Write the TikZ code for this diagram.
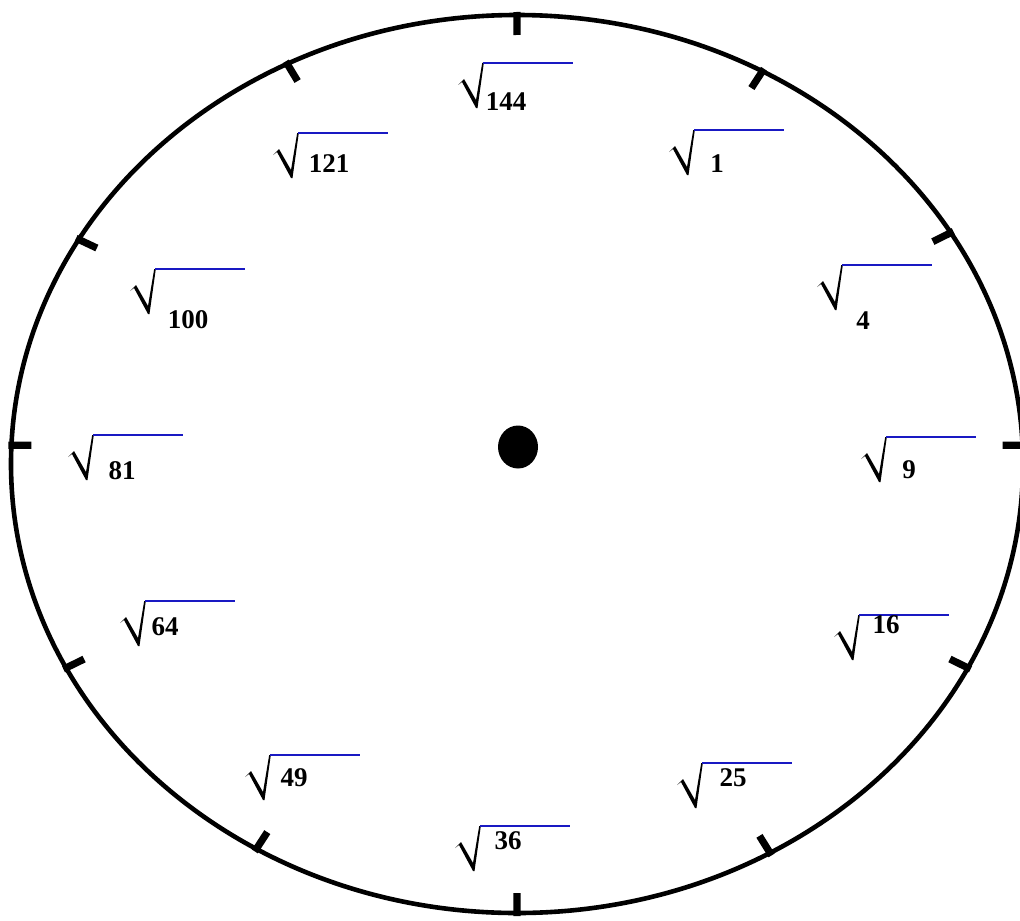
\documentclass[tikz,border=0pt]{standalone}
\usepackage{fontspec}
\setmainfont{Liberation Serif}
\usetikzlibrary{calc}
\definecolor{barblue}{RGB}{25,25,195}
\tikzset{
  rim/.style={line width=2.3pt},
  clocktick/.style={line width=3.6pt},
  bar/.style={draw=barblue, line width=0.9pt},
  numlabel/.style={font=\fontsize{13.5}{16}\selectfont\bfseries, inner sep=0pt},
  rootsign/.pic={
    \fill (-25,22) -- (-19,16) -- (-7,37) -- (-0.8,0) -- (0.8,0) -- (-5.5,45) -- (-7,45) -- (-21,19) -- cycle;
    \draw[bar] (0,0) -- (90,0);
  }
}

\begin{document}
\begin{tikzpicture}[x=0.5pt, y=-0.5pt]
  \useasboundingbox (0,0) rectangle (1020,920);

  % clock face
  \draw[rim] (517,464) ellipse [x radius=253pt, y radius=224.5pt];
  \coordinate (hub) at (518,447);
  \fill (hub) ellipse [x radius=10pt, y radius=10.75pt];

  % hour ticks
  \foreach \t in {90,61,31,2.4,-27,-60,-90,239,207,177.6,150,117}
    \draw[clocktick] ({517+506*cos(\t)},{464-449*sin(\t)}) coordinate (tk)
      ($(tk)!-1.5pt!(hub)$) -- ($(tk)!10pt!(hub)$);

  % square roots
  \foreach \jx/\jy/\nx/\ny/\v in {483/63/506/102/144, 694/130/717/164/1,
      842/265/863/321/4, 886/437/909/470/9, 859/615/886/625/16,
      702/763/733/778/25, 480/826/508/841/36, 270/755/294/778/49,
      145/601/165/627/64, 93/435/122/471/81, 155/269/188/320/100,
      298/133/329/164/121} {
    \pic at (\jx,\jy) {rootsign};
    \node[numlabel] (n\v) at (\nx,\ny) {\v};
  }
\end{tikzpicture}
\end{document}
